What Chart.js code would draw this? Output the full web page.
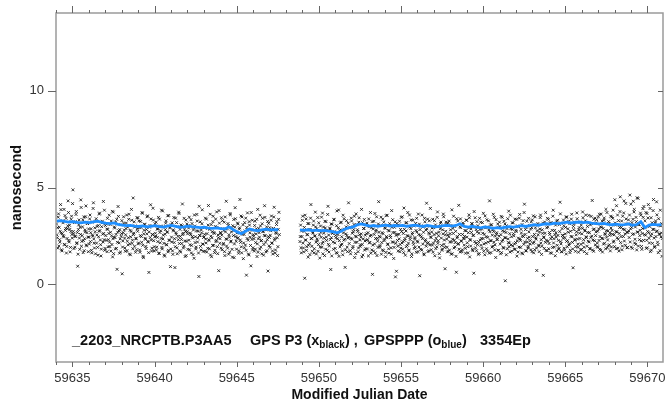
<!DOCTYPE html>
<html>
<head>
<meta charset="utf-8">
<script src="https://cdn.jsdelivr.net/npm/chart.js@4.4.1/dist/chart.umd.min.js"></script>
<style>
  html, body { margin: 0; padding: 0; background: #fff; }
  #wrap { width: 668px; height: 402px; position: relative; }
</style>
</head>
<body>
<div id="wrap"><canvas id="c"></canvas></div>
<script>
// axes
const X_MIN = 59634.0, X_MAX = 59670.95;
const Y_MIN = -4, Y_MAX = 14;
const xTicks = [59635, 59640, 59645, 59650, 59655, 59660, 59665, 59670];
const yTicks = [0, 5, 10];

// GPS P3 epochs (black x), two arcs; the "2" arrays are the epochs in between
const p3StartA = 59634.03, p3StartB = 59648.85, p3Step = 1 / 24, p3Half = 1 / 48;
const p3SegA = [
  3.12,2.41,1.87,3.64,2.95,2.18,4.12,2.66,1.73,3.28,2.51,3.87,2.04,2.79,3.41,1.96,2.88,4.31,2.27,3.05,1.68,2.73,3.52,2.39,
  4.88,2.61,3.19,1.92,2.47,3.76,2.15,0.94,2.83,3.33,1.81,2.58,3.97,2.22,2.97,1.64,3.48,2.36,2.71,4.05,1.99,3.15,2.44,2.86,
  2.08,3.58,2.67,1.76,3.21,2.49,4.21,2.13,2.92,1.58,3.39,2.55,1.91,3.04,2.74,3.68,2.29,1.47,2.98,3.26,2.19,2.63,3.83,1.86,
  2.52,3.11,1.69,2.84,2.31,3.57,1.95,2.69,3.27,2.06,1.42,3.73,2.43,2.91,1.83,2.58,3.36,2.17,4.02,2.77,1.61,2.35,3.08,2.62,
  0.55,2.24,3.49,2.81,1.88,2.56,3.17,1.74,2.96,2.41,3.62,2.09,1.53,2.73,3.31,2.28,4.46,2.65,1.97,3.02,2.38,1.79,2.87,3.44,
  2.14,2.93,1.66,3.25,2.47,3.71,2.02,1.38,2.79,3.09,2.33,1.85,2.61,3.54,2.18,0.62,2.95,2.42,3.38,1.72,2.57,3.93,2.26,1.94,
  3.13,2.49,1.77,2.86,2.21,3.46,1.59,2.68,3.01,2.37,1.91,3.79,2.54,2.12,1.46,2.83,3.28,2.04,2.71,1.68,3.56,2.29,2.97,1.83,
  2.44,3.18,1.55,2.76,2.16,0.87,3.42,2.59,1.89,2.98,2.31,3.66,1.73,2.48,3.07,2.11,4.15,2.64,1.97,2.85,1.44,3.32,2.23,2.72,
  1.81,2.91,3.47,2.05,2.57,1.62,3.14,2.39,2.81,1.35,3.01,2.46,1.93,3.61,2.19,2.75,0.41,2.52,3.23,1.78,2.66,3.85,2.08,2.43,
  2.93,1.71,2.34,3.37,2.62,1.86,4.07,2.27,2.84,1.52,3.09,2.41,2.01,3.52,2.68,1.64,2.99,2.21,3.74,1.95,2.55,0.71,3.16,2.36,
  2.63,3.44,1.79,2.88,2.12,3.21,1.49,2.71,4.29,2.33,1.87,3.03,2.56,1.66,3.59,2.24,2.92,1.41,2.78,3.35,2.09,3.96,2.47,1.82,
  2.38,3.12,1.61,2.85,4.38,2.17,1.94,3.48,2.69,1.33,2.58,3.19,2.03,1.76,2.94,3.69,2.28,1.52,3.06,2.44,0.96,2.81,3.31,1.89,
  2.49,1.72,3.26,2.16,2.87,1.44,3.87,2.35,2.67,1.83,3.02,2.25,1.58,3.41,2.74,2.06,4.06,2.51,1.68,2.97,2.31,0.69,3.15,2.42,
  1.91,2.77,3.53,2.14,1.57,2.89,3.98,2.37,1.78,2.63,3.24,1.49,2.84,3.72
];
const p3SegA2 = [
  2.56,2.93,3.47,1.98,2.31,2.74,3.86,1.79,2.62,3.18,2.45,2.07,3.55,2.89,1.62,2.37,3.02,3.71,2.19,2.84,1.91,3.36,2.58,4.17,
  2.73,1.85,2.49,3.24,3.61,2.11,2.68,1.56,3.07,2.39,2.95,4.36,1.97,2.52,3.33,2.26,1.74,2.81,3.49,2.04,2.67,3.14,1.69,2.44,
  3.38,2.21,2.87,1.63,2.55,3.92,2.34,1.88,2.72,3.26,2.13,2.99,1.51,2.46,3.63,2.78,2.05,1.82,3.17,2.59,4.28,2.31,1.76,3.04,
  2.27,2.86,3.41,1.94,2.63,2.18,3.09,1.72,2.51,3.77,2.36,1.59,2.97,2.42,3.22,1.86,0.78,2.69,3.51,2.14,2.83,1.67,2.48,3.29,
  1.93,2.67,3.15,2.39,1.71,2.88,3.58,2.23,2.04,3.36,1.57,2.79,2.46,3.87,2.12,1.84,2.57,3.23,2.96,1.66,2.35,3.44,2.74,2.09,
  3.28,1.78,2.52,2.94,2.17,3.67,1.45,2.61,3.11,2.38,1.96,2.83,3.49,2.22,1.64,2.71,3.04,4.11,2.29,1.87,2.58,3.32,1.73,2.46,
  2.64,3.21,1.92,2.43,2.86,1.61,3.37,2.15,2.77,3.83,1.83,2.34,2.98,1.52,2.59,3.16,2.06,2.69,3.54,1.76,2.27,2.91,0.92,3.08,
  2.19,1.73,2.82,3.45,2.36,1.95,2.67,3.19,1.58,2.48,3.73,2.11,2.84,1.67,2.32,3.02,2.57,1.88,3.41,2.24,2.73,1.49,3.12,2.61,
  3.04,2.28,1.79,2.65,3.34,2.01,2.47,1.54,2.92,3.58,2.16,1.83,2.76,3.27,2.39,1.62,4.03,2.53,1.96,2.81,3.13,2.08,1.71,2.44,
  2.58,3.42,2.14,1.67,2.89,3.06,2.31,1.84,3.62,2.49,1.43,2.72,3.24,2.02,2.63,1.76,3.37,2.27,2.94,1.59,2.41,3.81,2.12,2.68,
  1.87,2.54,3.29,2.06,2.78,1.69,3.48,2.35,1.98,2.87,3.14,1.56,2.44,3.66,2.19,2.71,1.81,3.03,2.52,1.38,2.96,3.39,2.23,2.65,
  3.17,2.41,1.74,2.92,2.29,3.53,1.63,2.59,3.08,2.14,1.89,2.76,3.42,0.48,2.37,2.83,1.57,3.24,2.66,2.01,3.71,2.32,1.78,2.57,
  2.36,3.04,1.82,2.61,3.36,2.09,1.66,2.88,2.44,3.57,1.93,2.27,3.13,2.72,1.51,2.53,3.46,2.18,2.81,1.74,3.25,2.47,1.99,2.93,
  2.54,3.31,2.12,1.73,2.86,3.48,2.29,1.62,2.68,3.09,2.41,1.95,3.36,2.57
];
const p3SegB = [
  2.21,3.06,1.63,2.47,3.52,1.88,2.74,0.32,2.29,3.38,1.95,2.56,1.41,3.14,2.12,2.83,4.12,2.38,1.71,2.65,3.27,1.84,2.51,2.97,
  1.57,2.34,3.45,2.06,2.78,1.36,3.01,2.43,1.92,3.68,2.19,2.64,1.49,2.91,3.24,2.27,1.76,4.03,2.55,1.99,2.86,0.77,2.41,3.11,
  2.69,1.81,3.33,2.14,2.53,1.64,3.79,2.36,2.92,1.45,2.77,3.18,2.03,2.46,1.73,3.57,2.28,2.85,0.88,2.61,3.29,1.93,2.39,4.21,
  2.11,2.96,1.58,3.42,2.33,1.87,2.71,3.09,1.39,2.49,3.64,2.18,2.82,1.69,3.21,2.57,1.96,2.44,3.87,2.06,1.52,2.89,3.35,2.24,
  1.84,2.62,3.16,2.31,1.47,2.98,2.17,3.71,2.54,1.78,0.52,2.86,3.26,2.09,1.63,2.73,3.49,2.37,1.91,4.27,2.48,2.01,3.04,1.56,
  2.67,3.37,1.74,2.26,2.93,1.43,3.55,2.41,2.05,2.79,1.62,3.13,2.52,1.89,3.81,2.19,2.68,1.34,2.95,3.23,2.12,0.68,2.58,1.97,
  3.07,2.35,1.69,2.84,3.46,2.14,1.82,2.63,3.94,2.27,1.51,2.76,3.19,2.02,2.49,1.73,3.58,2.32,2.88,1.44,2.59,3.31,2.07,1.86,
  2.42,3.15,1.66,2.71,2.18,3.63,1.93,0.45,2.53,3.02,1.77,2.36,2.97,1.58,3.41,2.23,2.81,4.19,2.11,1.69,2.66,3.28,2.04,2.45,
  1.79,2.91,3.36,2.13,2.57,1.48,3.07,2.38,1.94,3.74,2.25,2.69,1.37,2.87,3.22,2.01,1.83,2.61,3.49,2.29,0.81,2.74,3.11,1.92,
  2.55,1.71,3.27,2.19,2.82,1.56,3.85,2.33,2.63,1.88,2.99,2.16,1.45,3.39,2.47,2.07,4.08,2.58,1.67,2.93,2.24,1.79,3.17,2.39,
  2.03,2.78,1.61,3.31,2.44,1.95,2.67,3.59,1.42,2.28,2.86,3.14,1.81,2.52,0.58,2.96,3.44,2.12,1.74,2.71,3.03,2.21,1.59,2.84,
  3.21,2.37,1.86,2.64,3.67,2.09,1.53,2.92,2.46,3.34,1.72,2.18,2.81,4.31,2.26,1.64,3.08,2.54,1.97,2.73,3.46,2.04,1.39,2.59,
  2.31,3.12,1.76,2.49,2.99,1.58,3.51,2.22,2.77,1.91,3.26,2.41,0.19,2.68,3.03,1.84,2.35,3.78,2.14,1.67,2.87,2.46,3.18,1.99,
  2.62,1.81,3.37,2.16,2.73,1.46,3.02,2.39,1.93,3.61,2.27,2.84,1.62,2.51,3.29,2.07,4.14,2.58,1.73,2.95,2.19,1.88,3.41,2.44,
  2.09,2.86,3.23,1.69,2.47,3.54,2.18,1.79,2.92,2.34,0.72,3.07,2.56,1.97,2.71,3.45,2.13,1.55,2.82,3.16,2.41,1.86,2.64,3.71,
  2.28,1.74,2.97,3.36,2.11,2.58,1.63,3.18,2.45,1.91,3.83,2.36,2.79,1.48,2.66,3.27,2.02,2.53,1.82,3.09,4.24,2.21,1.69,2.88,
  2.54,3.32,1.87,2.41,2.94,1.57,3.47,2.26,2.69,2.03,3.13,1.76,2.48,3.62,2.17,0.86,2.83,3.21,2.32,1.95,2.72,3.39,2.08,1.66,
  2.93,2.37,1.78,3.06,2.61,3.74,2.14,1.92,2.81,3.28,2.46,1.59,2.99,2.23,3.56,2.67,1.83,2.43,3.14,4.33,2.29,1.71,2.86,3.42,
  2.52,3.18,1.95,2.74,3.49,2.27,1.81,2.97,3.63,2.38,1.67,2.89,3.31,2.12,2.58,3.87,2.44,1.89,2.76,3.24,2.05,2.66,3.52,1.93,
  2.79,3.41,2.18,2.56,4.37,3.06,1.84,2.71,3.58,2.33,1.72,2.94,4.52,2.47,3.27,1.98,2.85,3.69,2.24,2.61,4.18,3.12,1.89,2.68,
  3.33,2.42,4.61,2.87,1.93,3.19,2.58,4.29,3.74,2.14,2.96,3.46,1.78,2.69,4.44,3.08,2.31,2.79,3.57,1.96,2.63,3.91,2.27,2.92,
  3.28,2.54,1.86,3.66,2.73,4.12,2.38,2.99,1.69,3.44,2.61,2.12,3.81,2.84,1.91,3.17,2.47,4.26,2.76,2.05,3.39,2.58,1.74,3.02,
  2.66,1.45
];
const p3SegB2 = [
  2.47,1.89,2.76,3.31,2.13,1.68,2.94,3.57,2.29,1.76,2.58,3.14,2.02,2.83,1.54,3.42,2.36,1.97,2.71,3.06,1.63,2.49,3.73,2.18,
  2.87,2.24,1.71,3.18,2.56,1.93,2.69,3.47,2.11,1.58,2.96,2.38,3.26,1.82,2.44,2.79,3.61,2.07,1.67,2.91,2.32,3.12,1.47,2.63,
  2.19,3.36,2.72,1.86,2.41,3.03,1.61,2.57,3.84,2.26,1.94,2.82,3.21,2.08,1.53,2.66,3.39,2.33,1.79,2.97,2.52,1.69,3.16,2.43,
  2.91,1.74,2.38,3.27,2.64,1.96,2.83,3.52,2.17,1.59,2.46,3.08,2.73,1.88,3.44,2.29,2.04,2.61,1.42,3.19,2.35,2.88,1.77,2.54,
  3.09,2.28,1.83,2.67,3.38,2.14,2.49,1.61,2.92,3.24,2.03,1.72,2.58,3.66,2.37,2.81,1.49,2.23,3.12,2.69,1.94,2.44,3.47,2.16,
  1.78,2.62,3.21,2.34,2.89,1.65,2.47,3.57,2.09,1.84,2.76,3.03,2.42,1.56,2.95,3.34,2.18,1.91,2.68,0.39,2.53,3.14,2.27,1.73,
  2.59,3.26,2.06,1.87,2.73,3.49,2.21,1.64,2.84,2.37,3.17,1.95,2.52,3.71,2.13,1.78,2.96,2.44,3.33,1.58,2.67,2.19,3.02,2.35,
  1.92,2.78,3.41,2.24,1.69,2.57,3.11,2.83,1.81,2.46,3.58,2.08,2.69,1.53,3.23,2.31,1.97,2.87,3.37,2.16,1.74,2.61,3.92,2.42,
  2.71,2.03,1.66,2.93,3.29,2.26,1.85,2.64,3.46,2.12,2.51,1.59,2.98,3.15,2.39,1.76,2.82,3.63,2.07,1.91,2.56,3.22,2.34,1.68,
  3.18,2.46,1.77,2.62,3.04,2.19,1.58,2.89,3.52,2.28,1.94,2.74,0.63,2.41,3.27,2.11,1.82,2.97,3.38,2.23,1.69,2.58,3.09,2.36,
  2.48,1.86,2.77,3.32,2.15,1.63,2.91,3.44,2.32,1.98,2.68,3.13,1.74,2.54,3.76,2.21,1.89,2.83,3.24,2.06,1.55,2.64,3.41,2.29,
  2.02,2.86,3.19,2.37,1.71,2.59,3.53,2.14,1.84,2.96,2.43,3.28,1.61,2.72,3.07,2.25,1.93,2.81,3.62,2.18,1.78,2.49,3.34,2.67,
  2.33,1.76,2.94,3.21,2.08,2.57,1.64,3.46,2.29,1.87,2.73,3.12,2.41,1.53,2.88,3.39,2.16,1.95,2.62,3.57,2.04,1.72,2.84,3.18,
  2.51,2.09,1.82,2.79,3.36,2.24,1.67,2.98,3.42,2.35,1.91,2.66,3.09,1.58,2.47,3.71,2.19,2.83,1.74,3.26,2.38,1.96,2.71,3.04,
  2.26,1.79,2.93,3.33,2.12,1.63,2.58,3.49,2.41,1.88,2.77,3.14,2.03,1.69,2.86,3.58,2.31,1.97,2.64,0.47,2.45,3.22,2.17,1.75,
  2.92,3.41,2.23,1.84,2.68,3.17,2.36,1.61,2.79,3.52,2.14,1.93,2.57,3.06,2.44,1.72,3.31,2.27,1.86,2.73,3.64,2.09,1.68,2.52,
  2.38,3.03,1.77,2.61,3.48,2.22,1.95,2.87,3.26,2.11,1.64,2.74,3.37,2.46,1.83,2.99,3.13,2.28,1.71,2.56,3.69,2.34,1.92,2.81,
  2.64,3.22,2.07,1.81,2.89,3.44,2.31,1.69,2.76,3.58,2.42,1.97,2.68,3.16,2.19,1.86,3.07,3.51,2.49,1.78,2.83,3.36,2.26,2.04,
  2.71,3.34,2.13,1.92,2.86,3.62,2.47,1.76,2.95,3.27,2.36,2.08,3.43,2.62,1.84,2.77,3.71,2.29,1.99,3.14,2.53,1.73,2.91,3.48,
  2.58,3.83,2.24,1.95,3.17,2.72,4.06,2.41,1.87,3.29,2.63,3.76,2.16,2.94,1.79,3.52,2.47,4.31,2.83,2.02,3.38,2.69,1.91,3.12,
  2.76,3.58,2.19,4.14,2.94,1.86,3.36,2.61,3.87,2.33,2.07,3.24,4.47,2.71,1.98,3.09,2.52,3.68,2.24,1.81,2.89,3.46,4.02,2.57,
  2.96,3.71,2.28,1.89,3.43,2.67,2.14,3.92,2.51,1.77,3.18,2.84,4.38,2.39,1.96,3.27,2.72,3.59,2.18,1.64,3.04,2.61,3.83,2.45,
  3.14,2.37
];

// GPSPPP solution (blue line), 6-hourly samples
const pppStartA = 59634.03, pppStartB = 59648.85, pppStep = 0.25;
const pppSegA = [
  3.27,3.29,3.25,3.22, 3.24,3.20,3.18,3.21, 3.19,3.23,3.26,3.20, 3.16,3.14,3.17,3.10,
  3.06,3.03,3.05,3.01, 2.99,3.02,2.97,3.00, 3.03,2.98,2.96,3.01, 3.04,2.99,2.95,2.97,
  3.01,2.98,2.96,2.93, 2.95,2.91,2.89,2.92, 2.88,2.86,2.97,2.83, 2.71,2.62,2.74,2.86,
  2.80,2.77,2.82,2.85, 2.81,2.83,2.82
];
const pppSegB = [
  2.81,2.79,2.82,2.78, 2.80,2.77,2.79,2.75, 2.72,2.66,2.74,2.86, 2.93,2.97,3.08,3.12,
  3.06,3.01,3.04,3.00, 3.03,3.06,3.01,3.04, 3.02,3.05,3.00,3.03, 3.06,3.02,2.99,3.04,
  3.01,2.97,3.00,3.03, 3.05,3.01,3.04,3.13, 2.99,2.96,3.00,2.95, 2.92,2.97,2.94,2.89,
  2.93,2.90,2.95,2.98, 2.96,3.00,3.03,2.99, 3.04,3.08,3.05,3.10, 3.13,3.11,3.16,3.14,
  3.18,3.21,3.17,3.20, 3.22,3.19,3.21,3.16, 3.14,3.12,3.15,3.10, 3.08,3.11,3.07,3.09,
  3.12,3.05,3.09,3.24, 2.93,3.06,3.10,3.07, 3.09
];

const toPts = (arr, start, step) => arr.map((y, i) => ({ x: start + i * step, y }));

const FONT = '"Liberation Sans", Arial, Helvetica, sans-serif';
const AXIS_GRAY = '#9a9a9a';
const P3_STYLE = { pointStyle: 'crossRot', pointRadius: 2, borderColor: 'rgba(10,10,10,0.8)', borderWidth: 1, order: 2 };
const PPP_STYLE = { showLine: true, borderColor: '#1e8fff', borderWidth: 2.8, pointRadius: 0, order: 1 };

// frame, minor/major tick marks and the caption line
const framePlugin = {
  id: 'frame',
  afterDraw(chart) {
    const { ctx, chartArea: a, scales: { x, y } } = chart;
    ctx.save();
    ctx.strokeStyle = AXIS_GRAY;
    ctx.lineWidth = 1.5;
    ctx.strokeRect(a.left, a.top, a.right - a.left, a.bottom - a.top);
    ctx.lineWidth = 1;
    ctx.strokeStyle = '#666';
    ctx.beginPath();
    for (let d = Math.ceil(X_MIN); d <= X_MAX; d++) {
      const px = Math.round(x.getPixelForValue(d)) + 0.5;
      const major = d % 5 === 0;
      ctx.moveTo(px, a.bottom); ctx.lineTo(px, a.bottom + (major ? 5 : 3));
      ctx.moveTo(px, a.top); ctx.lineTo(px, a.top - (major ? 7 : 3));
    }
    yTicks.forEach(v => {
      const py = Math.round(y.getPixelForValue(v)) + 0.5;
      ctx.moveTo(a.left, py); ctx.lineTo(a.left - 8, py);
      ctx.moveTo(a.right, py); ctx.lineTo(a.right - 5, py);
    });
    ctx.stroke();

    // caption
    ctx.fillStyle = '#111';
    ctx.textBaseline = 'alphabetic';
    const base = 345;
    const big = 'bold 14.5px ' + FONT, small = 'bold 10px ' + FONT;
    const run = (x0, parts) => {
      let cx = x0;
      parts.forEach(([t, sub]) => {
        ctx.font = sub ? small : big;
        ctx.fillText(t, cx, base + (sub ? 3 : 0));
        cx += ctx.measureText(t).width;
      });
    };
    run(72, [['_2203_NRCPTB.P3AA5']]);
    run(250, [['GPS P3 (x'], ['black', 1], [') ,']]);
    run(364, [['GPSPPP (o'], ['blue', 1], [')']]);
    run(480, [['3354Ep']]);
    ctx.restore();
  }
};

new Chart(document.getElementById('c'), {
  type: 'scatter',
  data: {
    datasets: [
      { data: toPts(pppSegA, pppStartA, pppStep), ...PPP_STYLE },
      { data: toPts(pppSegB, pppStartB, pppStep), ...PPP_STYLE },
      { data: toPts(p3SegA, p3StartA, p3Step), ...P3_STYLE },
      { data: toPts(p3SegA2, p3StartA + p3Half, p3Step), ...P3_STYLE },
      { data: toPts(p3SegB, p3StartB, p3Step), ...P3_STYLE },
      { data: toPts(p3SegB2, p3StartB + p3Half, p3Step), ...P3_STYLE }
    ]
  },
  options: {
    responsive: true, maintainAspectRatio: false, animation: false,
    layout: { padding: { top: 13, right: 5, left: 0, bottom: 0 } },
    plugins: { legend: { display: false }, tooltip: { enabled: false } },
    scales: {
      x: {
        type: 'linear', min: X_MIN, max: X_MAX,
        grid: { display: false, drawTicks: false }, border: { display: false },
        afterBuildTicks: s => { s.ticks = xTicks.map(v => ({ value: v })); },
        afterFit: s => { s.height = 40; s.paddingLeft = 0; s.paddingRight = 0; },
        ticks: { padding: 9, color: '#333', font: { size: 13, family: FONT }, maxRotation: 0, callback: v => String(v) },
        title: { display: true, text: 'Modified Julian Date', color: '#111', font: { size: 14, weight: 'bold', family: FONT, lineHeight: 1 }, padding: { top: 0, bottom: 0 } }
      },
      y: {
        type: 'linear', min: Y_MIN, max: Y_MAX,
        grid: { display: false, drawTicks: false }, border: { display: false },
        afterBuildTicks: s => { s.ticks = yTicks.map(v => ({ value: v })); },
        afterFit: s => { s.width = 56; s.paddingTop = 0; s.paddingBottom = 0; },
        ticks: { padding: 12, color: '#333', font: { size: 13, family: FONT } },
        title: { display: true, text: 'nanosecond', color: '#111', font: { size: 14.5, weight: 'bold', family: FONT, lineHeight: 1 }, padding: { top: 10, bottom: 0 } }
      }
    }
  },
  plugins: [framePlugin]
});
</script>
</body>
</html>
